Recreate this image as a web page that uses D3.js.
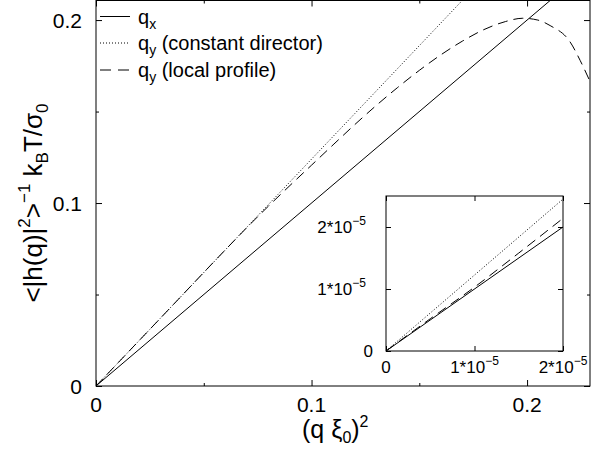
<!DOCTYPE html>
<html>
<head>
<meta charset="utf-8">
<script src="https://cdn.jsdelivr.net/npm/d3@7"></script>
<style>
  body { margin: 0; background: #fff; }
  svg { font-family: "Liberation Sans", Arial, Helvetica, sans-serif; }
</style>
</head>
<body>
<svg id="canvas" width="592" height="453"></svg>
<script>
// ---------------- data ----------------
let solidX = [0, 0.229];
let solidY = [0, 0.229];

let dottedX = [0, 0.18];
let dottedY = [0, 0.2232];

let dashedX = [0, 0.03, 0.06, 0.07, 0.08, 0.09, 0.1, 0.11, 0.12, 0.13, 0.14, 0.15, 0.16, 0.17, 0.18, 0.19, 0.198, 0.205, 0.2107, 0.22, 0.2246, 0.229];
let dashedY = [0, 0.0372, 0.0744, 0.0866, 0.0983, 0.1096, 0.1207, 0.1318, 0.1428, 0.1533, 0.1632, 0.1725, 0.181, 0.1885, 0.1948, 0.1992, 0.201, 0.2, 0.197, 0.188, 0.178, 0.167];

// inset (small q)
let insetSolidX = [0, 2e-5];
let insetSolidY = [0, 2e-5];
let insetDottedX = [0, 2e-5];
let insetDottedY = [0, 2.45e-5];
let insetDashedX = [0, 0.5e-5, 1e-5, 1.5e-5, 2e-5];
let insetDashedY = [0, 0.52e-5, 1.03e-5, 1.58e-5, 2.14e-5];

let xMajor = [0, 0.1, 0.2];
let xMinor = [0.05, 0.15];
let yMajor = [0, 0.1, 0.2];
let yMinor = [0.05, 0.15];
let insetTicks = [0, 1e-5, 2e-5];
let insetTickMant = ['0', '1*10', '2*10'];

let legendLabels = [
  { q: 'q', sub: 'x', rest: '' },
  { q: 'q', sub: 'y', rest: ' (constant director)' },
  { q: 'q', sub: 'y', rest: ' (local profile)' }
];

// ---------------- setup ----------------
let canvas = d3.select('#canvas');

let x = d3.scaleLinear().domain([0, 0.2292]).range([96, 590]);
let y = d3.scaleLinear().domain([0, 0.2107]).range([386, 0.5]);

let ix = d3.scaleLinear().domain([0, 2e-5]).range([386, 563]);
let iy = d3.scaleLinear().domain([0, 2.5e-5]).range([351, 196]);

let zip = (xs, ys) => xs.map((v, i) => [v, ys[i]]);

canvas.append('clipPath').attr('id', 'clipMain')
  .append('rect')
  .attr('x', x(0)).attr('y', y.range()[1])
  .attr('width', x.range()[1] - x(0)).attr('height', y(0) - y.range()[1]);

canvas.append('clipPath').attr('id', 'clipInset')
  .append('rect')
  .attr('x', ix(0)).attr('y', iy.range()[1])
  .attr('width', ix.range()[1] - ix(0)).attr('height', iy(0) - iy.range()[1]);

// ---------------- axes helper ----------------
let drawFrame = (g, xs, ys, major, minor, xMaj, xMin, yMaj, yMin) => {
  let [x0, x1] = xs.range();
  let [y0, y1] = ys.range();
  let ax = (axis, tr) => g.append('g').attr('transform', tr).call(axis)
    .call(s => s.select('.domain').remove())
    .call(s => s.selectAll('text').remove())
    .call(s => s.selectAll('line').attr('stroke', '#000').attr('stroke-width', 1));

  [[xMaj, major], [xMin, minor]].forEach(([vals, len]) => {
    if (!vals.length) return;
    ax(d3.axisBottom(xs).tickValues(vals).tickSize(-len), `translate(0,${y0})`);
    ax(d3.axisTop(xs).tickValues(vals).tickSize(-len), `translate(0,${y1})`);
  });
  [[yMaj, major], [yMin, minor]].forEach(([vals, len]) => {
    if (!vals.length) return;
    ax(d3.axisLeft(ys).tickValues(vals).tickSize(-len), `translate(${x0},0)`);
    ax(d3.axisRight(ys).tickValues(vals).tickSize(-len), `translate(${x1},0)`);
  });

  g.append('rect')
    .attr('x', x0).attr('y', y1)
    .attr('width', x1 - x0).attr('height', y0 - y1)
    .attr('fill', 'none').attr('stroke', '#000').attr('stroke-width', 1);
};

let drawCurve = (g, data, xs, ys, dash, clip, curve) => {
  g.append('path')
    .datum(data)
    .attr('clip-path', `url(#${clip})`)
    .attr('fill', 'none')
    .attr('stroke', '#000')
    .attr('stroke-width', 1)
    .attr('stroke-dasharray', dash)
    .attr('d', d3.line().x(d => xs(d[0])).y(d => ys(d[1])).curve(curve || d3.curveLinear));
};

// ---------------- main plot ----------------
let main = canvas.append('g');

drawCurve(main, zip(solidX, solidY), x, y, null, 'clipMain');
drawCurve(main, zip(dottedX, dottedY), x, y, '1,2', 'clipMain');
drawCurve(main, zip(dashedX, dashedY), x, y, '10,6', 'clipMain', d3.curveMonotoneX);

drawFrame(main, x, y, 6, 3, xMajor, xMinor, yMajor, yMinor);

main.selectAll('.xlab').data(xMajor).enter().append('text')
  .attr('x', d => x(d)).attr('y', 412)
  .attr('text-anchor', 'middle').attr('font-size', 21)
  .text(d => d3.format('')(d));

main.selectAll('.ylab').data(yMajor).enter().append('text')
  .attr('x', 82).attr('y', d => y(d) + 7.5)
  .attr('text-anchor', 'end').attr('font-size', 21)
  .text(d => d3.format('')(d));

// x axis title
let xt = main.append('text').attr('x', 302).attr('y', 438).attr('font-size', 25);
xt.append('tspan').text('(q \u03BE');
xt.append('tspan').attr('font-size', 16).attr('dy', 5).text('0');
xt.append('tspan').attr('dy', -5).text(')');
xt.append('tspan').attr('font-size', 16).attr('dy', -11).text('2');

// y axis title
let yt = main.append('text')
  .attr('transform', 'translate(42,203) rotate(-90)')
  .attr('text-anchor', 'middle').attr('font-size', 26);
yt.append('tspan').text('<|h(q)|');
yt.append('tspan').attr('font-size', 17).attr('dy', -12).text('2');
yt.append('tspan').attr('dy', 12).text('>');
yt.append('tspan').attr('font-size', 17).attr('dy', -12).text('\u22121');
yt.append('tspan').attr('dy', 12).text(' k');
yt.append('tspan').attr('font-size', 17).attr('dy', 6).text('B');
yt.append('tspan').attr('dy', -6).text('T/\u03C3');
yt.append('tspan').attr('font-size', 17).attr('dy', 6).text('0');

// legend
let legendY = [16.5, 43, 70];
let legendDash = [null, '1,2', '11,7'];
legendLabels.forEach((lab, i) => {
  main.append('line')
    .attr('x1', 100).attr('x2', 130)
    .attr('y1', legendY[i]).attr('y2', legendY[i])
    .attr('stroke', '#000').attr('stroke-width', 1)
    .attr('stroke-dasharray', legendDash[i]);
  let t = main.append('text').attr('x', 138).attr('y', legendY[i] + 7).attr('font-size', 20);
  t.append('tspan').text(lab.q);
  t.append('tspan').attr('font-size', 14).attr('dy', 5).text(lab.sub);
  if (lab.rest) t.append('tspan').attr('dy', -5).text(lab.rest);
});

// ---------------- inset ----------------
let inset = canvas.append('g');
inset.append('rect')
  .attr('x', ix(0)).attr('y', iy.range()[1])
  .attr('width', ix.range()[1] - ix(0)).attr('height', iy(0) - iy.range()[1])
  .attr('fill', '#fff');

drawCurve(inset, zip(insetSolidX, insetSolidY), ix, iy, null, 'clipInset');
drawCurve(inset, zip(insetDottedX, insetDottedY), ix, iy, '1,2', 'clipInset');
drawCurve(inset, zip(insetDashedX, insetDashedY), ix, iy, '10,6', 'clipInset', d3.curveMonotoneX);

drawFrame(inset, ix, iy, 5, 0, insetTicks, [], insetTicks, []);

insetTicks.forEach((v, i) => {
  // x labels
  let tx = inset.append('text')
    .attr('x', ix(v)).attr('y', 373)
    .attr('text-anchor', 'middle').attr('font-size', 17);
  tx.append('tspan').text(insetTickMant[i]);
  if (i > 0) tx.append('tspan').attr('font-size', 12).attr('dy', -8).text('\u22125');

  // y labels
  let ty = inset.append('text')
    .attr('x', i > 0 ? 366 : 373).attr('y', iy(v) + 6)
    .attr('text-anchor', 'end').attr('font-size', 17);
  ty.append('tspan').text(insetTickMant[i]);
  if (i > 0) ty.append('tspan').attr('font-size', 12).attr('dy', -8).text('\u22125');
});
</script>
</body>
</html>
